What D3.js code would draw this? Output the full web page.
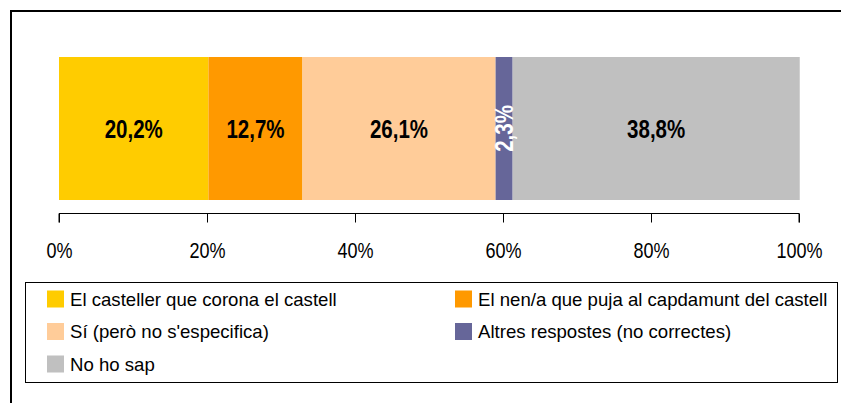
<!DOCTYPE html>
<html>
<head>
<meta charset="utf-8">
<script src="https://cdn.jsdelivr.net/npm/d3@7"></script>
<style>
  body { margin: 0; background: #fff; }
  svg { display: block; }
</style>
</head>
<body>
<div id="chart"></div>
<script>
// Data
const categories = [
  "El casteller que corona el castell",
  "El nen/a que puja al capdamunt del castell",
  "Sí (però no s'especifica)",
  "Altres respostes (no correctes)",
  "No ho sap"
];
const values = [20.2, 12.7, 26.1, 2.3, 38.8];
const colors = ["#FFCC00", "#FF9900", "#FFCC99", "#666699", "#C0C0C0"];
const tickValues = [0, 20, 40, 60, 80, 100];

const width = 841, height = 403;
const font = "'Liberation Sans', Arial, sans-serif";
const squeeze = 0.82; // no narrow face installed, so squeeze the regular one

const svg = d3.select("#chart").append("svg")
  .attr("width", width)
  .attr("height", height);

// outer frame (runs off the right and bottom edges)
svg.append("rect")
  .attr("x", 11).attr("y", 11)
  .attr("width", width + 20).attr("height", height + 20)
  .style("fill", "none")
  .style("stroke", "#000")
  .style("stroke-width", 2);

// Scales
const x = d3.scaleLinear().domain([0, 100]).range([59, 799]);
const barTop = 57, barBottom = 200;

// stack the values
let acc = 0;
const segs = values.map((v, i) => {
  const s = { name: categories[i], value: v, x0: acc, x1: acc + v, color: colors[i] };
  acc += v;
  return s;
});

svg.selectAll(".seg")
  .data(segs)
  .enter()
  .append("rect")
  .attr("class", "seg")
  .attr("x", d => x(d.x0))
  .attr("y", barTop)
  .attr("width", d => x(d.x1) - x(d.x0))
  .attr("height", barBottom - barTop)
  .style("fill", d => d.color);

// segment labels
const fmt = v => v.toFixed(1).replace(".", ",") + "%";
const midY = (barTop + barBottom) / 2;
svg.selectAll(".seg-label")
  .data(segs)
  .enter()
  .append("text")
  .attr("class", "seg-label")
  .attr("transform", d => {
    const cx = (x(d.x0) + x(d.x1)) / 2;
    const rot = d.value < 5 ? " rotate(-90)" : "";
    return `translate(${cx},${midY})${rot} scale(${squeeze},1)`;
  })
  .attr("text-anchor", "middle")
  .attr("dy", "0.36em")
  .text(d => fmt(d.value))
  .style("fill", d => d.value < 5 ? "#fff" : "#000")
  .style("font-family", font)
  .style("font-weight", "bold")
  .style("font-size", "25px");

// axis
const axisY = 213.5;
const axis = svg.append("g")
  .attr("transform", `translate(0,${axisY})`)
  .call(d3.axisBottom(x).tickValues(tickValues).tickSize(9).tickPadding(19.5).tickFormat(d => d + "%"));
axis.select(".domain").attr("d", `M${x(0)},9V0H${x(100)}V9`).style("stroke", "#000");
axis.selectAll(".tick line").style("stroke", "#000");
axis.selectAll(".tick text")
  .attr("transform", `scale(${squeeze},1)`)
  .style("font-family", font)
  .style("font-size", "22px")
  .style("fill", "#000");

// legend
svg.append("rect")
  .attr("x", 25.5).attr("y", 282.5)
  .attr("width", 812).attr("height", 100)
  .style("fill", "#fff")
  .style("stroke", "#000")
  .style("stroke-width", 1);

const legendCols = [47, 455];
const legendRows = [299, 331.5, 364];
const legend = svg.selectAll(".legend-item")
  .data(segs)
  .enter()
  .append("g")
  .attr("class", "legend-item")
  .attr("transform", (d, i) => `translate(${legendCols[i % 2]},${legendRows[Math.floor(i / 2)]})`);

legend.append("rect")
  .attr("x", 0).attr("y", -8.5)
  .attr("width", 17).attr("height", 17)
  .style("fill", d => d.color);

legend.append("text")
  .attr("x", 23)
  .attr("dy", "0.36em")
  .text(d => d.name)
  .style("font-family", font)
  .style("font-size", "18.6px")
  .style("fill", "#000");
</script>
</body>
</html>
